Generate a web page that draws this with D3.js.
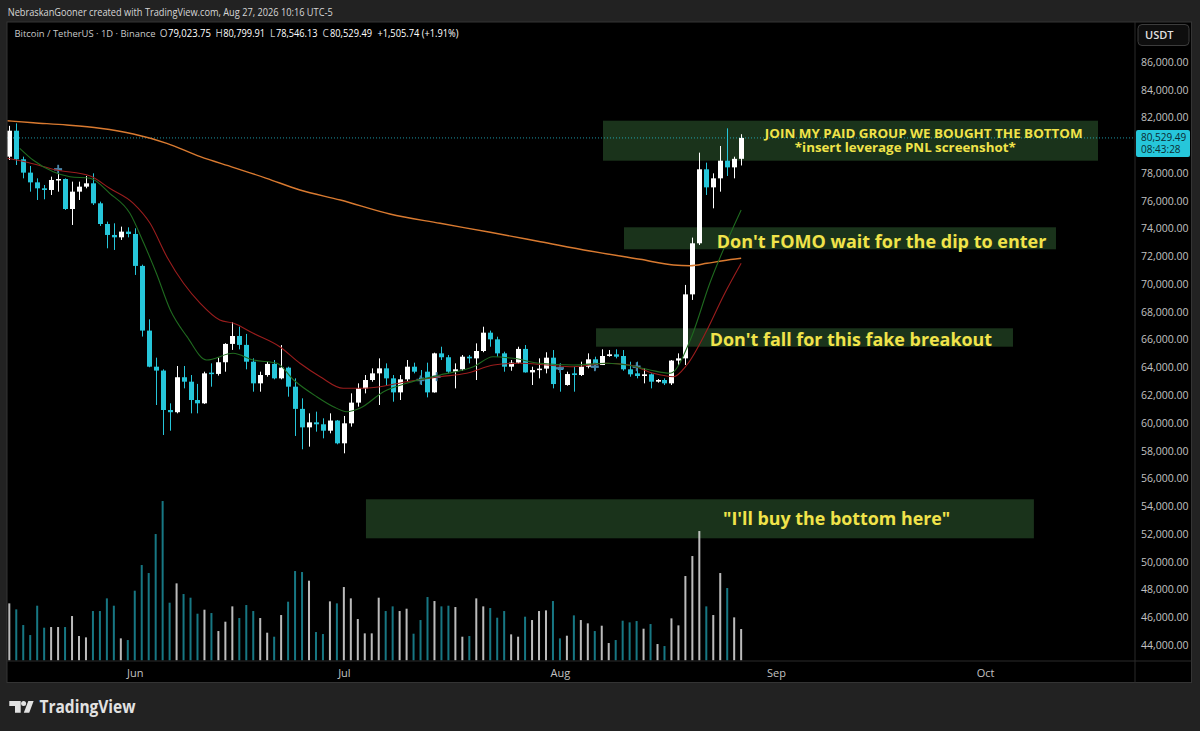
<!DOCTYPE html>
<html><head><meta charset="utf-8">
<script src="https://cdn.jsdelivr.net/npm/d3@7"></script>
<style>
html,body{margin:0;padding:0;background:#222;}
svg{display:block;}
text{font-family:"Open Sans","Liberation Sans",sans-serif;}
</style></head><body>
<svg id="c" width="1200" height="731"></svg>
<script>
// ---------- DATA ----------
const firstDay = "2026-05-14";   // first candle (daily bars through 2026-08-27)
const lastDay  = "2026-08-27";
const openP = [79180,81050,78990,78030,77330,76900,76780,77500,77570,75410,
  76660,77020,77260,75820,74330,73540,73370,73780,73610,71310,
  66650,64050,63770,60930,60770,63290,62970,61650,61410,63620,
  63530,64370,65690,66260,65620,64410,62850,63450,64250,63210,
  63980,62610,61010,59680,60040,59900,59440,60170,58530,59970,
  61460,62490,63090,63570,63930,63210,62200,63140,64050,63260,
  63690,62200,65010,64730,63690,63860,64770,64650,65180,66500,
  66020,65010,64050,64340,65330,63640,63810,63910,64700,63930,
  62730,63570,63450,64050,64580,64170,64820,64940,64820,63860,
  63570,63380,63500,62970,63090,62850,64490,64650,69260,72940,
  78270,76970,77620,78890,78410,79023.75];
const highP = [81400,81580,79180,78510,77620,77140,77740,78460,77620,77380,
  77380,77790,77980,75940,74500,74380,74140,74090,74020,71400,
  67460,64700,63860,61410,64100,64100,63450,62810,63690,64290,
  64700,65740,67250,66940,66410,64650,63690,64410,64530,65610,
  64050,63210,61770,60690,60810,60330,60690,60210,60500,62130,
  62850,63450,63930,64650,64290,63450,63450,64530,64340,63810,
  64340,65060,65490,64890,64290,64890,64890,65730,66930,66650,
  66210,65130,64530,65490,65610,64050,64650,65090,65250,64290,
  63690,64050,64410,65010,64770,65300,65250,65300,65250,64410,
  64410,63930,63570,63160,63210,64530,65010,69940,73350,79470,
  78750,77980,79950,81220,79180,80799.91];
const lowP = [78940,78580,77620,76660,76060,76110,76420,76660,75340,74260,
  76060,76900,75700,74190,72580,72460,73180,73370,70660,66220,
  64010,61290,59130,59440,60690,62490,60690,60690,61370,62610,
  63410,63690,65260,65300,63860,62250,62250,63330,63140,63140,
  61890,59060,58100,58290,59370,58890,59250,58460,57810,59730,
  61170,62130,62970,61290,62730,61530,61650,62970,63570,62730,
  61840,62180,64530,63570,62490,63760,64290,63090,65090,65490,
  64770,63690,63760,64250,63620,62730,63210,63570,62490,62250,
  62680,62250,63380,63930,63810,64170,64770,64650,63760,63330,
  63210,62850,62490,62900,62730,62730,64170,64170,68860,72820,
  76420,75460,76660,77790,77620,78546.13];
const closeP = [81050,78990,78030,77330,76900,76780,77500,77570,75410,76660,
  77020,77260,75820,74330,73540,73370,73780,73610,71310,66650,
  64050,63770,60930,60770,63290,62970,61650,61410,63570,63530,
  64370,65690,66260,65620,64410,62850,63450,64250,63210,63980,
  62610,61010,59680,60040,59900,59440,60170,58530,59970,61460,
  62490,63090,63570,63930,63210,62200,63140,64050,63690,63020,
  62200,65010,64730,63690,63860,64770,64650,65180,66500,66020,
  65010,64050,64340,65330,63640,63810,63910,64700,62800,63810,
  63520,63450,64050,64580,64170,64820,64940,64770,63860,63500,
  63380,63500,62970,63090,62850,64490,64650,69260,72940,78270,
  76970,77620,78890,78410,79023.75,80529.49];
const volume = [17.2,15.4,10.7,7.7,16.5,9.9,10.1,10.1,10.1,13.4,
  7.4,7.0,14.9,14.9,18.7,16.5,6.7,6.2,21.0,28.7,
  26.3,38.0,47.9,17.4,23.2,20.0,18.9,14.1,15.3,14.3,
  8.9,11.7,16.3,12.8,16.7,14.9,12.8,8.4,7.2,13.7,
  17.7,26.9,26.6,24.0,8.6,8.0,17.8,17.2,22.1,18.7,
  12.5,8.2,8.2,18.9,14.9,16.3,14.9,15.6,8.1,12.2,
  19.1,17.9,16.3,16.5,16.1,7.2,7.4,18.7,16.3,15.8,
  12.9,14.9,7.9,7.2,13.2,12.2,14.9,15.1,17.9,6.7,
  7.5,13.6,12.2,11.2,8.9,10.5,5.3,6.2,12.0,11.5,
  11.9,9.6,11.0,5.0,4.4,12.7,10.6,25.4,31.4,38.9,
  16.3,13.7,26.3,21.8,13.0,9.5];
// moving averages: day offset from first candle, value
const maLongDay = [-0.3,3.44,8.24,13.0,17.8,22.6,27.4,32.1,36.9,41.7,47.5,54.6,61.8,69.0,76.2,83.3,90.5,95.3,97.7,100.1,102.4,105];
const maLongVal = [81771,81627,81461,81224,80813,80143,79178,78414,77622,76779,76058,75050,74380,73732,73055,72384,71786,71376,71325,71498,71686,71859];
const maMidDay = [-0.3,2.25,6.8,11.6,14.4,17.8,20.2,22.6,25.0,27.4,30.2,32.2,35.0,38.8,41.7,44.6,47.9,50.1,53.2,57.0,61.8,65.6,69.5,73.3,77.1,80.9,85.7,89.0,92.4,95.3,97.2,100.1,102.4,105];
const maMidVal = [79063,78818,78220,77787,76901,75821,74380,71974,70058,68617,67414,67176,66456,65490,64294,63329,62493,62493,62609,62969,63329,63574,64172,64294,64172,64049,64294,64172,63574,63329,64172,66693,69092,71498];
const maShortDay = [1.5,3.4,6.3,8.7,11.6,14.4,17.3,19.3,21.1,23.1,25.5,28.3,32.1,35.0,38.4,40.8,44.1,46.5,48.4,50.3,53.7,57.0,61.8,66.6,69.4,72.3,76.1,80.9,85.7,88.6,91.9,94.8,97.7,100.5,105];
const maShortVal = [79783,78940,78097,77737,77622,76541,75100,72939,70778,68134,66211,64532,65015,64532,64294,63091,61889,61169,60808,61053,62249,62853,63451,64049,64769,64654,64294,64172,64294,64172,63812,63574,65973,70058,75338];
// small "+" markers
const markDay = [7,59,61.3,79,84,90];
const markVal = [78270,63092,63330,63934,64050,64050];
const priceTicks = d3.range(44000, 86001, 2000);
const monthTicks = ["2026-06-01","2026-07-01","2026-08-01","2026-09-01","2026-10-01"];
const lastPrice = 80529.49, countdown = "08:43:28";
const legendKeys = ["O","H","L","C"];
const legendVals = ["79,023.75","80,799.91","78,546.13","80,529.49"];
const legendChange = "+1,505.74 (+1.91%)";
// annotations: [startDay, endDay, topPrice, bottomPrice]
const boxes = [[85.18,156.2,81771,78890],[88.19,150.17,74092,72507],[84.18,144.0,66816,65490],[51.17,147.0,54497,51687]];
// texts: text, startDay, baselinePrice, widthDays, size
const notes = [
  ["JOIN MY PAID GROUP WE BOUGHT THE BOTTOM",108.4,80503,45.6,13],
  ["*insert leverage PNL screenshot*",112.7,79538,31.7,13],
  ["Don't FOMO wait for the dip to enter",101.5,72579,47.3,17],
  ["Don't fall for this fake breakout",100.5,65541,40.5,17],
  ["\"I'll buy the bottom here\"",102.4,52645,32.6,17]
];

// ---------- DRAW ----------
const svg = d3.select("#c");
const t0 = Date.parse(firstDay+"T00:00:00Z");
const dayMs = 864e5;
const dOff = d => new Date(t0 + d*dayMs);
const dates = d3.utcDay.range(new Date(t0), new Date(Date.parse(lastDay+"T00:00:00Z")+dayMs));

const x = d3.scaleUtc().domain([new Date(t0), new Date(Date.parse("2026-10-01T00:00:00Z"))]).range([9.3, 985.1]);
const y = d3.scaleLinear().domain([44000, 86000]).range([645, 62]);
const vy = d3.scaleLinear().domain([0, 48]).range([660.7, 500.7]);

const UP = "#ffffff", DOWN = "#26c6da";

svg.append("rect").attr("width",1200).attr("height",731).attr("fill","#222222");
svg.append("rect").attr("x",7).attr("y",22).attr("width",1184.5).attr("height",660.5)
  .attr("fill","#000").attr("stroke","#343434");

// header
svg.append("text").attr("x",7.7).attr("y",16).attr("font-size",11).attr("fill","#d6d6d6")
  .attr("font-family","'Liberation Sans',sans-serif")
  .attr("textLength",325).attr("lengthAdjust","spacingAndGlyphs")
  .text("NebraskanGooner created with TradingView.com, Aug 27, 2026 10:16 UTC-5");

const defs = svg.append("defs");
defs.append("clipPath").attr("id","plot").append("rect").attr("x",7.5).attr("y",22.5).attr("width",1127).attr("height",638);

const plot = svg.append("g").attr("clip-path","url(#plot)");

// annotation boxes (behind)
plot.selectAll("rect.box").data(boxes).join("rect").attr("class","box")
  .attr("x",d=>x(dOff(d[0]))).attr("width",d=>x(dOff(d[1]))-x(dOff(d[0])))
  .attr("y",d=>y(d[2])).attr("height",d=>y(d[3])-y(d[2]))
  .attr("fill","#1a331b");

// last price dotted line
plot.append("line").attr("x1",7).attr("x2",1135).attr("y1",y(lastPrice)).attr("y2",y(lastPrice))
  .attr("stroke","#26c6da").attr("stroke-opacity",0.75).attr("stroke-dasharray","1,2");

// volume
plot.selectAll("rect.vol").data(volume).join("rect").attr("class","vol")
  .attr("x",(d,i)=>x(dates[i])-1).attr("width",2)
  .attr("y",d=>vy(d)).attr("height",d=>vy(0)-vy(d))
  .attr("fill",(d,i)=>closeP[i]>=openP[i]?"rgba(220,220,220,0.85)":"rgba(38,198,218,0.6)");

// candles
const cg = plot.append("g");
dates.forEach((dt,i)=>{
  const up = closeP[i]>=openP[i];
  const col = up?UP:DOWN;
  const cx = Math.round(x(dt));
  cg.append("rect").attr("x",cx).attr("width",1).attr("y",y(highP[i])).attr("height",Math.max(1,y(lowP[i])-y(highP[i]))).attr("fill",col);
  const top = y(Math.max(openP[i],closeP[i])), bot = y(Math.min(openP[i],closeP[i]));
  cg.append("rect").attr("x",cx-2).attr("width",5).attr("y",top).attr("height",Math.max(1.5,bot-top)).attr("fill",col);
});

// markers
markDay.forEach((d,i)=>{
  const mx = x(dOff(d)), my = y(markVal[i]);
  plot.append("rect").attr("x",mx-4).attr("y",my-1.2).attr("width",8).attr("height",2.4).attr("fill","#4a86aa");
  plot.append("rect").attr("x",mx-0.8).attr("y",my-4.5).attr("width",1.8).attr("height",9).attr("fill","#4a86aa");
});

// moving averages
const line = d3.line().curve(d3.curveMonotoneX);
function ma(days, vals, col, w){
  plot.append("path").attr("d", line(days.map((d,i)=>[x(dOff(d)), y(vals[i])])))
    .attr("fill","none").attr("stroke",col).attr("stroke-width",w);
}
ma(maLongDay, maLongVal, "#d97a30", 1.4);
ma(maMidDay, maMidVal, "#9b1d1d", 1.1);
ma(maShortDay, maShortVal, "#1f6a1f", 1.1);

// notes
svg.selectAll("text.note").data(notes).join("text").attr("class","note")
  .attr("x",d=>x(dOff(d[1]))).attr("y",d=>y(d[2]))
  .attr("textLength",d=>x(dOff(d[1]+d[3]))-x(dOff(d[1]))).attr("lengthAdjust","spacingAndGlyphs")
  .attr("font-size",d=>d[4]).attr("font-weight",700).attr("fill","#f0e34a")
  .text(d=>d[0]);

// separators
svg.append("line").attr("x1",1135).attr("x2",1135).attr("y1",22).attr("y2",682.5).attr("stroke","#2a2a2a");
svg.append("line").attr("x1",7).attr("x2",1191.5).attr("y1",661).attr("y2",661).attr("stroke","#2a2a2a");

// right axis (ticks hidden behind the last-price label are skipped, as on the platform)
const labTop = y(lastPrice)-8, labBot = y(lastPrice)+19;
const shownTicks = priceTicks.filter(v => y(v) < labTop-5 || y(v) > labBot+5);
const ya = svg.append("g").attr("transform","translate(1135,0)")
  .call(d3.axisRight(y).tickValues(shownTicks).tickFormat(d3.format(",.2f")).tickSize(0).tickPadding(6));
ya.select(".domain").remove();
ya.selectAll("text").attr("font-size",10.5).attr("fill","#c2c2c2").attr("font-family","'Liberation Sans',sans-serif");

// bottom axis
const xa = svg.append("g").attr("transform","translate(0,661)")
  .call(d3.axisBottom(x).tickValues(monthTicks.map(s=>new Date(Date.parse(s+"T00:00:00Z")))).tickFormat(d3.utcFormat("%b")).tickSize(0).tickPadding(8));
xa.select(".domain").remove();
xa.selectAll("text").attr("font-size",11).attr("fill","#c2c2c2");

// last price label
svg.append("rect").attr("x",1136).attr("y",labTop).attr("width",54).attr("height",27).attr("rx",2).attr("fill","#26c6da");
svg.append("text").attr("x",1141).attr("y",y(lastPrice)+3.5).attr("font-size",10).attr("fill","#0b2a31")
  .attr("font-family","'Liberation Sans',sans-serif").text(d3.format(",.2f")(lastPrice));
svg.append("text").attr("x",1141).attr("y",y(lastPrice)+15.5).attr("font-size",10).attr("fill","#0b2a31")
  .attr("font-family","'Liberation Sans',sans-serif").text(countdown);

// USDT button
svg.append("rect").attr("x",1138).attr("y",24.5).attr("width",51).attr("height",21).attr("rx",4)
  .attr("fill","#0e0e0e").attr("stroke","#3c3c3c");
svg.append("text").attr("x",1145).attr("y",39).attr("font-size",11).attr("font-weight",600).attr("fill","#e0e0e0").text("USDT");

// legend line
const leg = svg.append("g").attr("font-size",10).attr("font-family","'Liberation Sans',sans-serif");
leg.append("text").attr("x",14.5).attr("y",37).attr("fill","#c9c9c9").attr("font-size",9.6)
  .attr("textLength",141).attr("lengthAdjust","spacingAndGlyphs").text("Bitcoin / TetherUS · 1D · Binance");
const keyX = [159.8,215.5,270,322.4], valX = [168,223.2,276,330], valW = [43,42,41.4,42];
legendKeys.forEach((k,i)=>{
  leg.append("text").attr("x",keyX[i]).attr("y",37).attr("fill","#c9c9c9").text(k);
  leg.append("text").attr("x",valX[i]).attr("y",37).attr("fill","#ffffff")
    .attr("textLength",valW[i]).attr("lengthAdjust","spacingAndGlyphs").text(legendVals[i]);
});
leg.append("text").attr("x",377.4).attr("y",37).attr("fill","#ffffff")
  .attr("textLength",81).attr("lengthAdjust","spacingAndGlyphs").text(legendChange);

// TradingView logo
const lg = svg.append("g").attr("fill","#e2e2e2");
lg.append("path").attr("d","M9.3,701 H20.7 V712.7 H15 V706 H9.3 Z");
lg.append("circle").attr("cx",23.6).attr("cy",703.4).attr("r",2.5);
lg.append("path").attr("d","M28.3,701 H33.6 L29.2,712.7 H23.8 Z");
lg.append("text").attr("x",39.5).attr("y",712.7).attr("font-size",17).attr("font-weight",700)
  .attr("textLength",96).attr("lengthAdjust","spacingAndGlyphs").attr("fill","#e2e2e2").text("TradingView");
</script>
</body></html>
